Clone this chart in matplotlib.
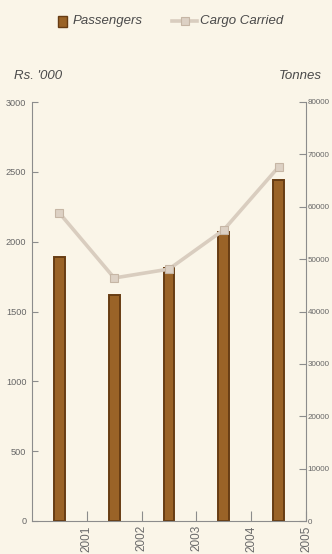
import matplotlib
matplotlib.use("Agg")
import matplotlib.pyplot as plt
from matplotlib.patches import Rectangle
from matplotlib.lines import Line2D

# Data
years = ["2001", "2002", "2003", "2004", "2005"]
passengers = [1890, 1620, 1810, 2070, 2440]          # Rs. '000
cargo = [58800, 46400, 48100, 55600, 67600]          # tonnes
left_ticks = [0, 500, 1000, 1500, 2000, 2500, 3000]
right_ticks = [0, 10000, 20000, 30000, 40000, 50000, 60000, 70000, 80000]

BG = "#FAF5E8"
BAR_FACE = "#9A6327"
BAR_EDGE = "#673C13"
LINE_C = "#D9CDBF"
MARK_FACE = "#DDD1C4"
MARK_EDGE = "#C6B6A5"
AXIS_C = "#8C8C8C"
TEXT_C = "#4A4A4A"
NUM_FONT = ["Liberation Sans", "DejaVu Sans"]

W, H = 332, 554
fig = plt.figure(figsize=(W / 100, H / 100), dpi=100, facecolor=BG)
ax = fig.add_axes([32 / W, 1 - 521 / H, (306 - 32) / W, (521 - 102) / H])
ax.set_facecolor(BG)

xs = [i + 0.5 for i in range(len(years))]
ax.bar(xs, passengers, width=0.2, color=BAR_FACE, edgecolor=BAR_EDGE,
       linewidth=1.4, zorder=2)
ax.set_xlim(0, len(years))
ax.set_ylim(0, 3000)
ax.set_yticks(left_ticks)
ax.set_xticks(range(1, len(years) + 1))
ax.set_xticklabels(years, rotation=90, fontsize=8.5, color="#6A6A6A",
                   family=NUM_FONT)
for lab in ax.get_yticklabels():
    lab.set_family(NUM_FONT)
ax.tick_params(axis="y", direction="in", length=4, width=0.8, color=AXIS_C,
               labelsize=6.6, labelcolor="#666666", pad=4)
ax.tick_params(axis="x", direction="in", length=7, width=0.8, color=AXIS_C, pad=3)
ax.spines["top"].set_visible(False)
ax.spines["right"].set_visible(False)
for s in ("left", "bottom"):
    ax.spines[s].set_color(AXIS_C)
    ax.spines[s].set_linewidth(0.8)

ax2 = ax.twinx()
ax2.plot(xs, cargo, color=LINE_C, linewidth=2.6, marker="s", markersize=6,
         markerfacecolor=MARK_FACE, markeredgecolor=MARK_EDGE,
         markeredgewidth=0.8, zorder=3)
ax2.set_ylim(0, 80000)
ax2.set_yticks(right_ticks)
for lab in ax2.get_yticklabels():
    lab.set_family(NUM_FONT)
ax2.tick_params(axis="y", direction="in", length=5, width=0.8, color=AXIS_C,
                labelsize=5.8, labelcolor="#666666", pad=1)
for s in ("top", "left", "bottom"):
    ax2.spines[s].set_visible(False)
ax2.spines["right"].set_color(AXIS_C)
ax2.spines["right"].set_linewidth(0.8)

# Axis unit captions
fig.text(14 / W, 1 - 76 / H, "Rs. '000", fontsize=9.5, style="italic",
         color=TEXT_C, family="Liberation Sans", va="center", ha="left")
fig.text(322 / W, 1 - 76 / H, "Tonnes", fontsize=9.5, style="italic",
         color=TEXT_C, family="Liberation Sans", va="center", ha="right")

# Legend
fig.patches.append(Rectangle((58 / W, 1 - 27 / H), 9 / W, 11 / H,
                             transform=fig.transFigure, facecolor=BAR_FACE,
                             edgecolor=BAR_EDGE, linewidth=1.0))
fig.text(73 / W, 1 - 21 / H, "Passengers", fontsize=9.5, style="italic",
         color=TEXT_C, family="Liberation Sans", va="center", ha="left")
fig.lines.append(Line2D([172 / W, 197 / W], [1 - 21 / H, 1 - 21 / H],
                        transform=fig.transFigure, color=LINE_C, linewidth=2.6))
fig.lines.append(Line2D([184.5 / W], [1 - 21 / H], transform=fig.transFigure,
                        marker="s", markersize=6, markerfacecolor=MARK_FACE,
                        markeredgecolor=MARK_EDGE, markeredgewidth=0.8,
                        linestyle="none"))
fig.text(200 / W, 1 - 21 / H, "Cargo Carried", fontsize=9.5, style="italic",
         color=TEXT_C, family="Liberation Sans", va="center", ha="left")

fig.savefig("out.png", dpi=100, facecolor=BG)
